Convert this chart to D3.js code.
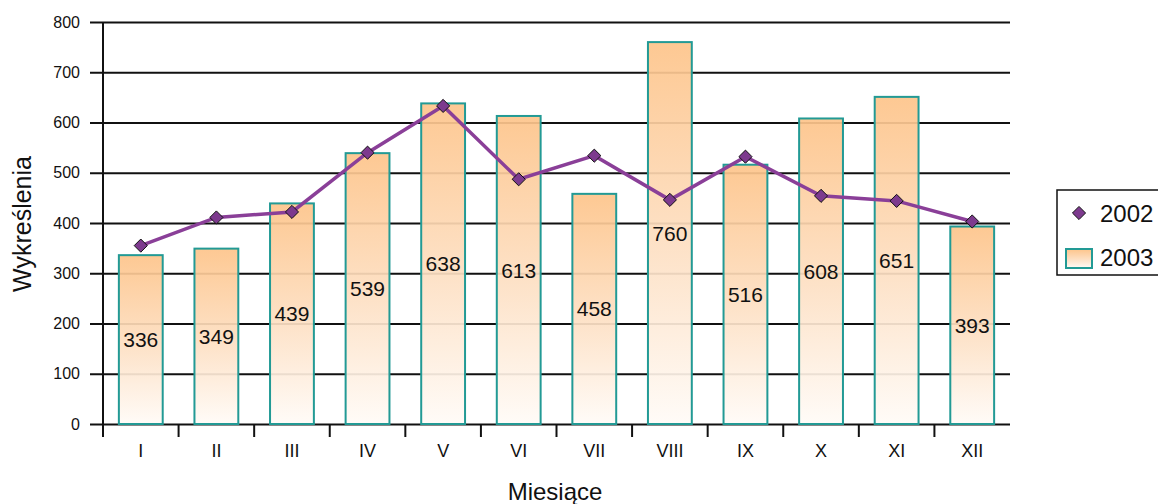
<!DOCTYPE html>
<html>
<head>
<meta charset="utf-8">
<script src="https://cdn.jsdelivr.net/npm/d3@7"></script>
<style>
  body { margin: 0; background: #fff; }
  svg { display: block; font-family: "Liberation Sans", Arial, sans-serif; }
</style>
</head>
<body>
<svg id="chart"></svg>
<script>
"use strict";

var months = ["I", "II", "III", "IV", "V", "VI", "VII", "VIII", "IX", "X", "XI", "XII"];
var values2003 = [336, 349, 439, 539, 638, 613, 458, 760, 516, 608, 651, 393];
var values2002 = [355, 411, 422, 540, 633, 487, 534, 446, 532, 454, 444, 403];
var yTicks = [0, 100, 200, 300, 400, 500, 600, 700, 800];
var seriesNames = ["2002", "2003"];

var width = 1158
  , height = 504
  , plotLeft = 103
  , plotRight = 1010
  , plotTop = 22
  , plotBottom = 424;

var svg = d3.select("#chart")
  .attr("width", width)
  .attr("height", height);

var x = d3.scaleBand().domain(months).range([plotLeft, plotRight]).padding(0);
var y = d3.scaleLinear().domain([0, 800]).range([plotBottom, plotTop]);

// gradient for the 2003 bars
var grad = svg.append("defs").append("linearGradient")
  .attr("id", "barGrad")
  .attr("x1", 0).attr("y1", 0).attr("x2", 0).attr("y2", 1);
grad.append("stop").attr("offset", "0%").attr("stop-color", "#fdc48a");
grad.append("stop").attr("offset", "55%").attr("stop-color", "#fde0c4");
grad.append("stop").attr("offset", "100%").attr("stop-color", "#fffbf7");

// gridlines + y ticks
var yAxis = d3.axisLeft(y)
  .tickValues(yTicks)
  .tickSizeOuter(0);

var gy = svg.append("g")
  .attr("transform", "translate(" + plotLeft + ",0)")
  .call(yAxis);
gy.select(".domain").remove();
gy.selectAll(".tick line")
  .attr("x1", -13)
  .attr("x2", plotRight - plotLeft)
  .attr("stroke", "#111")
  .attr("stroke-width", 2);
gy.selectAll(".tick text")
  .attr("x", -23)
  .style("font-size", "16px")
  .attr("fill", "#111");

// bars
var barW = x.bandwidth() * 0.58;
svg.append("g").selectAll("rect")
  .data(values2003)
  .enter()
  .append("rect")
  .attr("x", function (d, i) { return x(months[i]) + (x.bandwidth() - barW) / 2; })
  .attr("y", function (d) { return y(d); })
  .attr("width", barW)
  .attr("height", function (d) { return y(0) - y(d); })
  .attr("fill", "url(#barGrad)")
  .attr("fill-opacity", 0.92)
  .attr("stroke", "#229a95")
  .attr("stroke-width", 2);

// bar value labels
svg.append("g").selectAll("text")
  .data(values2003)
  .enter()
  .append("text")
  .attr("x", function (d, i) { return x(months[i]) + x.bandwidth() / 2; })
  .attr("y", function (d) { return (y(d) + y(0)) / 2; })
  .attr("dy", "0.36em")
  .attr("text-anchor", "middle")
  .style("font-size", "21px")
  .attr("fill", "#111")
  .text(function (d) { return d; });

// y axis line
svg.append("line")
  .attr("x1", plotLeft).attr("x2", plotLeft)
  .attr("y1", plotTop).attr("y2", plotBottom + 13)
  .attr("stroke", "#111")
  .attr("stroke-width", 2);

// x axis
var xAxis = d3.axisBottom(x).tickSize(0).tickPadding(20);
var gx = svg.append("g")
  .attr("transform", "translate(0," + plotBottom + ")")
  .call(xAxis);
gx.select(".domain").remove();
gx.selectAll(".tick text")
  .style("font-size", "18px")
  .attr("fill", "#111");

svg.append("g").selectAll("line")
  .data(months.slice(1))
  .enter()
  .append("line")
  .attr("x1", function (d) { return x(d); })
  .attr("x2", function (d) { return x(d); })
  .attr("y1", plotBottom)
  .attr("y2", plotBottom + 13)
  .attr("stroke", "#111")
  .attr("stroke-width", 2);

// 2002 line
var line = d3.line()
  .x(function (d, i) { return x(months[i]) + x.bandwidth() / 2; })
  .y(function (d) { return y(d); });

svg.append("path")
  .datum(values2002)
  .attr("d", line)
  .attr("fill", "none")
  .attr("stroke", "#8a3f98")
  .attr("stroke-width", 3.5);

var diamond = d3.symbol().type(d3.symbolDiamond2).size(110);
svg.append("g").selectAll("path")
  .data(values2002)
  .enter()
  .append("path")
  .attr("d", diamond)
  .attr("transform", function (d, i) {
    return "translate(" + (x(months[i]) + x.bandwidth() / 2) + "," + y(d) + ")";
  })
  .attr("fill", "#7d3a8e")
  .attr("stroke", "#111")
  .attr("stroke-width", 1);

// axis titles
svg.append("text")
  .attr("transform", "translate(31,224) rotate(-90)")
  .attr("text-anchor", "middle")
  .style("font-size", "25px")
  .attr("fill", "#111")
  .text("Wykreślenia");

svg.append("text")
  .attr("x", 555)
  .attr("y", 500)
  .attr("text-anchor", "middle")
  .style("font-size", "24px")
  .attr("fill", "#111")
  .text("Miesiące");

// legend
var legend = svg.append("g").attr("transform", "translate(1057,190)");
legend.append("rect")
  .attr("width", 130)
  .attr("height", 85)
  .attr("fill", "#fff")
  .attr("stroke", "#111")
  .attr("stroke-width", 1.5);

legend.append("path")
  .attr("d", diamond)
  .attr("transform", "translate(22,23)")
  .attr("fill", "#7d3a8e")
  .attr("stroke", "#111")
  .attr("stroke-width", 1);

legend.append("rect")
  .attr("x", 9).attr("y", 59)
  .attr("width", 26).attr("height", 19)
  .attr("fill", "url(#barGrad)")
  .attr("stroke", "#229a95")
  .attr("stroke-width", 2);

legend.selectAll("text.lg")
  .data(seriesNames)
  .enter()
  .append("text")
  .attr("class", "lg")
  .attr("x", 43)
  .attr("y", function (d, i) { return 32 + i * 44; })
  .style("font-size", "24px")
  .attr("fill", "#111")
  .text(function (d) { return d; });
</script>
</body>
</html>
